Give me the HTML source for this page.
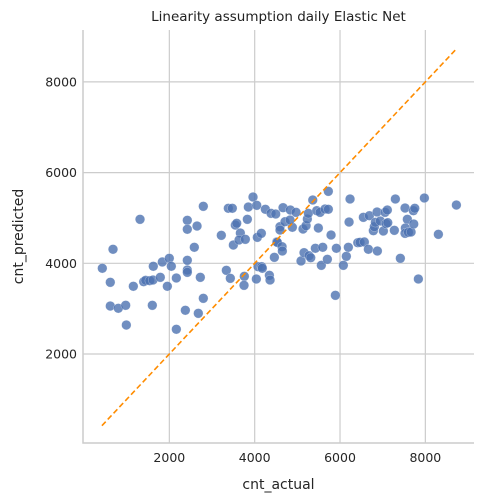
<!DOCTYPE html>
<html><head><meta charset="utf-8"><style>
body{margin:0;background:#fff}
svg{display:block;font-family:"DejaVu Sans","Liberation Sans",sans-serif}
</style></head><body>
<svg id="c" width="484" height="504"></svg>
<script>
const xs=[429,680,616,616,804,977,992,1313,1156,1399,1446,1540,1617,1788,1624,1835,1999,2046,1953,1601,2164,2164,2375,2679,2796,2726,2421,2421,2421,2585,2421,2421,2649,2796,3218,3382,3476,3546,3579,3664,3500,3633,3781,3828,3851,3961,4048,4250,4383,4493,4062,4156,4461,4517,3336,3429,3757,3750,4039,4079,4165,4179,4344,4360,4531,4641,4648,4665,4836,4969,4594,4594,4711,4883,4829,5133,5204,5234,5258,5361,5455,5532,5649,5726,5726,5492,5790,5086,5157,5274,5314,5422,5595,5562,5703,5914,5891,6078,6148,6195,6235,6212,6416,6469,6570,6664,6875,6547,6688,6868,6781,6805,6828,6945,7055,7109,7016,7079,7119,7273,7297,7524,7719,7752,7578,7531,7524,7602,7665,7728,7414,7977,7836,8305,8727];
const ys=[3890,4309,3581,3058,3008,3074,2639,4970,3493,3594,3625,3616,3632,3691,3934,4029,4110,3934,3493,3074,3676,2545,2964,2897,3228,3691,4066,3852,3801,4353,4948,4750,4822,5257,4617,5213,5213,4844,4882,4668,4403,4514,4529,4970,5241,5462,5279,5191,5102,5087,4573,4661,4132,4470,3845,3669,3713,3515,3654,3925,3925,3890,3735,3632,4463,4366,4271,5226,5175,5124,4807,4734,4917,4794,4955,4756,4829,4977,5102,5396,5160,5124,5197,5191,5587,4778,4624,4051,4234,4167,4123,4331,4353,3956,4088,4331,3294,3956,4154,4353,5418,4910,4454,4463,4470,4309,4271,5014,5049,5131,4719,4807,4904,4933,5124,5175,4712,4873,4895,4727,5418,5219,5160,5213,4970,4778,4661,4683,4690,4866,4110,5440,3654,4639,5285];
const xTicks=[2000,4000,6000,8000];
const yTicks=[2000,4000,6000,8000];
const lineRange=[420,8714];
const L=83,R=474,T=30,B=443;
const sx=v=>84+v*0.04267;
const sy=v=>444.7-v*0.04535;
const NS="http://www.w3.org/2000/svg";
const svg=document.getElementById('c');
function mk(t,a,p){const e=document.createElementNS(NS,t);for(const k in a)e.setAttribute(k,a[k]);(p||svg).appendChild(e);return e;}
const title=mk('text',{x:(L+R)/2,y:21,'text-anchor':'middle','font-size':13.5,fill:'#222'});


title.textContent='Linearity assumption daily Elastic Net';
xTicks.forEach(v=>{
 const g=mk('line',{x1:sx(v),x2:sx(v),y1:T,y2:B,stroke:'#cccccc','stroke-width':1.2});
 
 
 const t=mk('text',{x:sx(v),y:B+19,'text-anchor':'middle','font-size':12.5,fill:'#262626'});
 
 
 t.textContent=v;
});
yTicks.forEach(v=>{
 const g=mk('line',{x1:L,x2:R,y1:sy(v),y2:sy(v),stroke:'#cccccc','stroke-width':1.2});
 
 
 const t=mk('text',{x:L-6,y:sy(v)+4.5,'text-anchor':'end','font-size':12.5,fill:'#262626'});
 
 
 t.textContent=v;
});
const ax=mk('path',{d:`M${L},${T}V${B}H${R}`,fill:'none',stroke:'#cccccc','stroke-width':1.5});


xs.forEach((x,i)=>{
 const c=mk('circle',{cx:sx(x),cy:sy(ys[i]),r:4.8,fill:'#4c72b0','fill-opacity':0.8,stroke:'#fff','stroke-width':0.4,'stroke-opacity':0.6});
 
 
});
const ln=mk('line',{x1:sx(lineRange[0]),y1:sy(lineRange[0]),x2:sx(lineRange[1]),y2:sy(lineRange[1]),stroke:'#ff8c00','stroke-width':1.6,'stroke-dasharray':'5.5,3'});


const xl=mk('text',{x:(L+R)/2,y:489,'text-anchor':'middle','font-size':14,fill:'#262626'});


xl.textContent='cnt_actual';
const yl=mk('text',{x:0,y:0,'text-anchor':'middle','font-size':14,fill:'#262626',transform:`translate(23,${(T+B)/2}) rotate(-90)`});


yl.textContent='cnt_predicted';
</script>
</body></html>
